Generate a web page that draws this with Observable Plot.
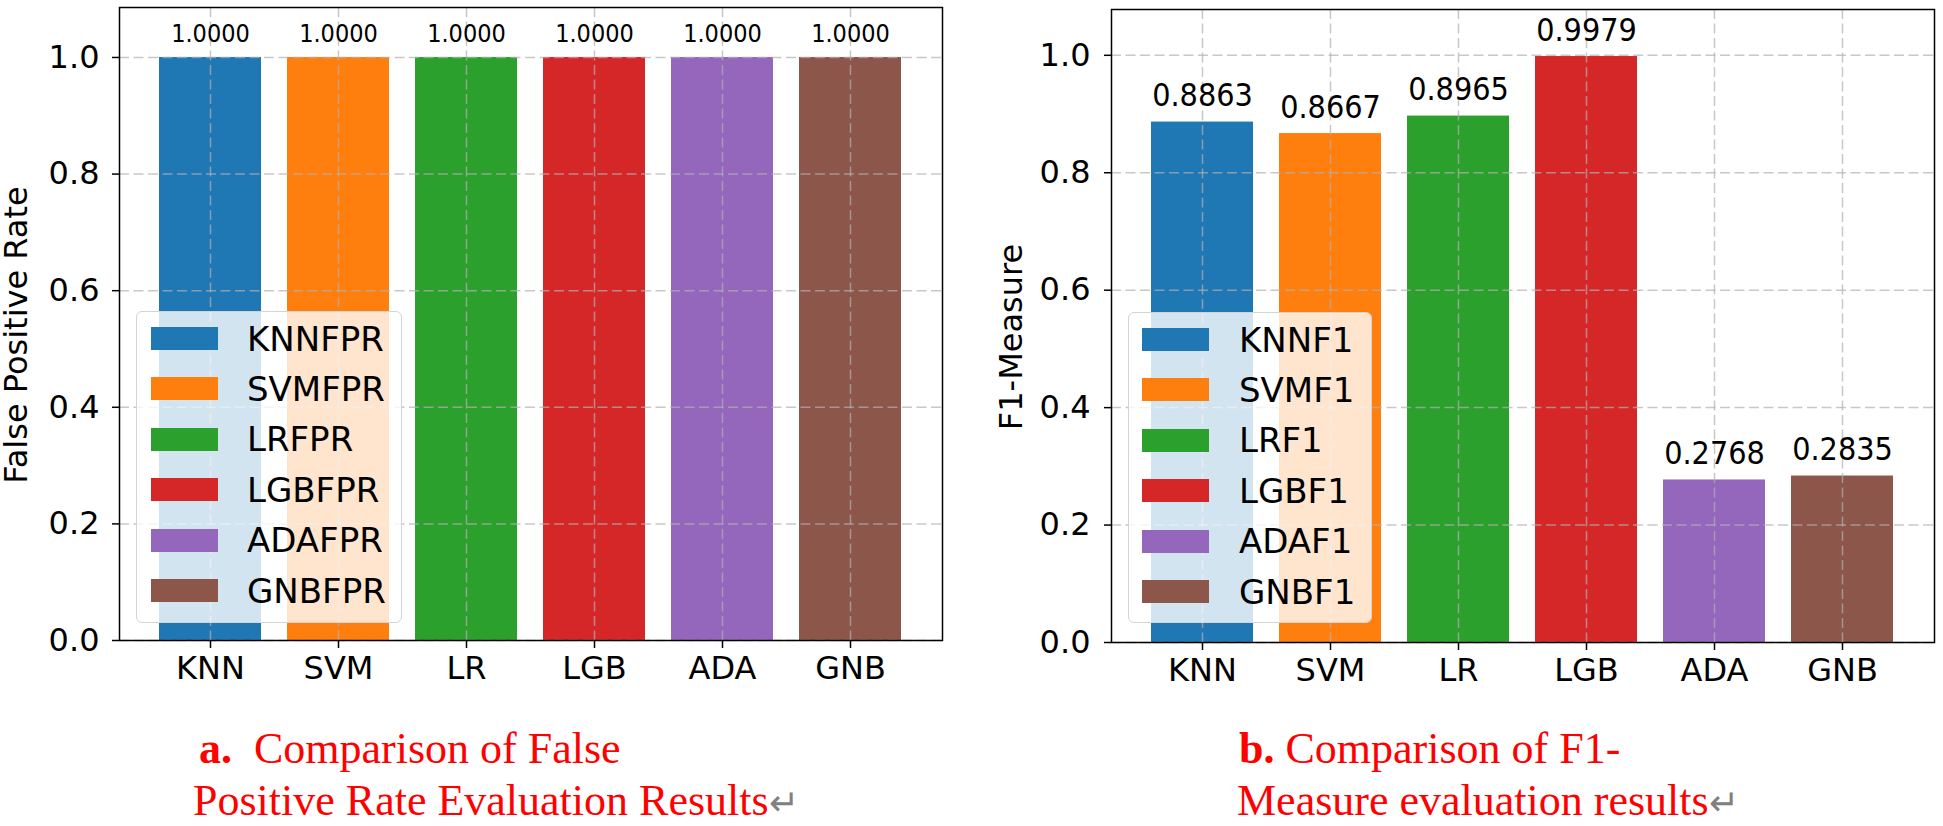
<!DOCTYPE html>
<html>
<head>
<meta charset="utf-8">
<script src="https://cdn.jsdelivr.net/npm/d3@7"></script>
<script src="https://cdn.jsdelivr.net/npm/@observablehq/plot@0.6"></script>
<style>
  html, body { margin: 0; padding: 0; background: #fff; }
  body { width: 1943px; height: 826px; position: relative; overflow: hidden; font-family: "DejaVu Sans", sans-serif; }
  .panel { position: absolute; top: 0; }
  .legend { position: absolute; background: rgba(255,255,255,0.8); border: 1.5px solid #d4d4d4; border-radius: 6px; box-sizing: border-box; }
  .legend .patch { position: absolute; width: 67px; height: 23px; }
  .legend .lab { position: absolute; font-family: "DejaVu Sans"; font-size: 34px; line-height: 34px; color: #000; white-space: nowrap; }
  .caption { position: absolute; color: #ff0000; font-family: "Liberation Serif", "Times New Roman", serif; font-size: 44px; line-height: 52px; white-space: nowrap; }
  .caption b { font-weight: bold; }
  .caption .ret { color: #808080; font-family: "DejaVu Sans"; font-size: 36px; font-weight: 200; }
</style>
</head>
<body>
<div id="left" class="panel" style="left:0px"></div>
<div id="right" class="panel" style="left:960px"></div>
<div id="legendA" class="legend" style="left:136px; top:311px; width:266px; height:312px"></div>
<div id="legendB" class="legend" style="left:1128px; top:312px; width:244px; height:311px"></div>
<div class="caption" style="left:199px; top:723px">
  <div><b>a.</b>&nbsp; Comparison of False</div>
  <div style="margin-left:-6px">Positive Rate Evaluation Results<span class="ret">↵</span></div>
</div>
<div class="caption" style="left:1239px; top:723px">
  <div><b>b.</b> Comparison of F1-</div>
  <div style="margin-left:-2px">Measure evaluation results<span class="ret">↵</span></div>
</div>
<script>
// ---- data ----
const models = ["KNN", "SVM", "LR", "LGB", "ADA", "GNB"];
const fprValues = [1.0000, 1.0000, 1.0000, 1.0000, 1.0000, 1.0000];
const f1Values = [0.8863, 0.8667, 0.8965, 0.9979, 0.2768, 0.2835];
const fprLegend = ["KNNFPR", "SVMFPR", "LRFPR", "LGBFPR", "ADAFPR", "GNBFPR"];
const f1Legend = ["KNNF1", "SVMF1", "LRF1", "LGBF1", "ADAF1", "GNBF1"];
const barColors = ["#1f77b4", "#ff7f0e", "#2ca02c", "#d62728", "#9467bd", "#8c564b"];
const yTicks = [0.0, 0.2, 0.4, 0.6, 0.8, 1.0];

function panel(values, yLabel, cfg) {
  const data = models.map((m, i) => ({model: m, value: values[i]}));
  const gridStyle = {stroke: "#b0b0b0", strokeOpacity: 0.7, strokeWidth: 1.5, strokeDasharray: "10,4.5"};
  return Plot.plot({
    width: cfg.width,
    height: 700,
    marginLeft: cfg.marginLeft,
    marginRight: cfg.marginRight,
    marginTop: cfg.marginTop,
    marginBottom: 700 - cfg.bottom,
    style: {fontFamily: "DejaVu Sans", fontSize: "32px", color: "#000", background: "#fff", overflow: "visible"},
    x: {domain: models, paddingInner: 0.2, paddingOuter: 0.3, label: null},
    y: {domain: [0, cfg.yMax], label: null},
    color: {domain: models, range: barColors},
    marks: [
      Plot.barY(data, {x: "model", y: "value", fill: "model"}),
      Plot.gridX(models, {x: d => d, ...gridStyle}),
      Plot.gridY(yTicks, {y: d => d, ...gridStyle}),
      Plot.text(data, {
        x: "model", y: "value", text: d => d.value.toFixed(4),
        lineAnchor: "bottom", dy: cfg.labelDy, fontSize: cfg.labelSize,
        fontFamily: "DejaVu Sans Condensed", fill: "#000"
      }),
      Plot.axisX({tickSize: 8, tickPadding: 8, fontSize: 32, label: null, stroke: "#000", strokeWidth: 1.5}),
      Plot.axisY({ticks: yTicks, tickFormat: ".1f", tickSize: 7, tickPadding: cfg.tickPadding, fontSize: 32,
        label: null, stroke: "#000", strokeWidth: 1.5}),
      Plot.text([yLabel], {
        frameAnchor: "left", rotate: -90, textAnchor: "middle", lineAnchor: "top",
        dx: -cfg.labelOffset, dy: 11, fontSize: 32, fill: "#000", text: d => d
      }),
      Plot.frame({stroke: "#000", strokeWidth: 1.5})
    ]
  });
}

document.getElementById("left").appendChild(panel(fprValues, "False Positive Rate", {
  width: 960, marginLeft: 119, marginRight: 18, marginTop: 7, bottom: 640, yMax: 1.0857,
  labelDy: -15, labelSize: 25, labelOffset: 115, tickPadding: 13
}));
document.getElementById("right").appendChild(panel(f1Values, "F1-Measure", {
  width: 983, marginLeft: 151, marginRight: 9, marginTop: 9, bottom: 642, yMax: 1.078,
  labelDy: -16, labelSize: 32, labelOffset: 112, tickPadding: 14
}));

function legend(id, names, patchLeft, patchTop, textLeft) {
  const box = document.getElementById(id);
  names.forEach((name, i) => {
    const top = patchTop + i * 50.4;
    const p = document.createElement("div");
    p.className = "patch";
    p.style.left = patchLeft + "px";
    p.style.top = top + "px";
    p.style.background = barColors[i];
    box.appendChild(p);
    const t = document.createElement("div");
    t.className = "lab";
    t.style.left = textLeft + "px";
    t.style.top = (top + 11.5 - 17) + "px";
    t.textContent = name;
    box.appendChild(t);
  });
}
legend("legendA", fprLegend, 14, 15, 110);
legend("legendB", f1Legend, 13, 15, 110);
</script>
</body>
</html>
